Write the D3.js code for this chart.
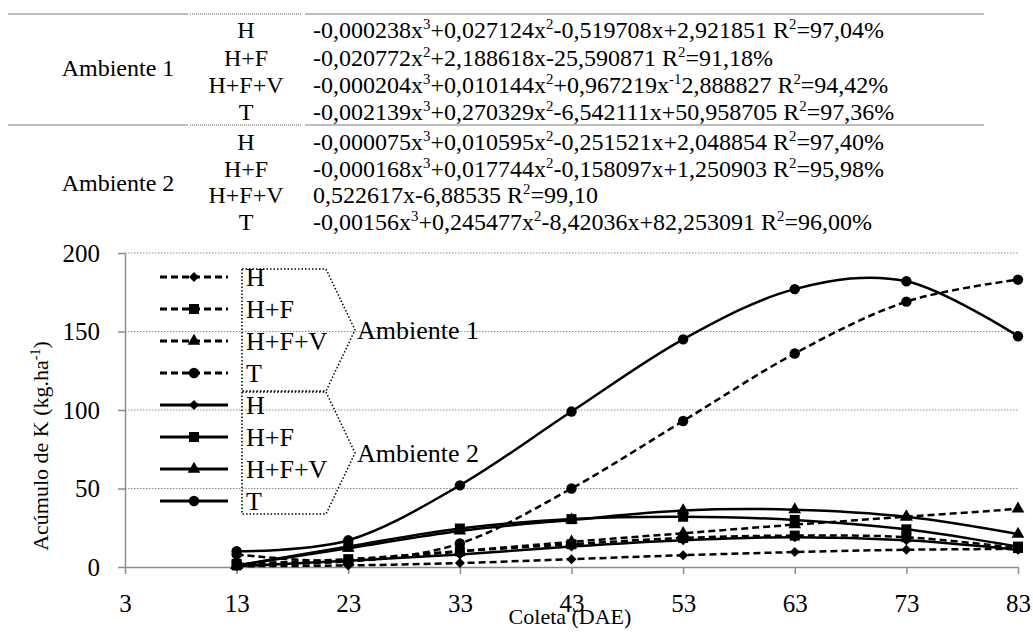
<!DOCTYPE html>
<html>
<head>
<meta charset="utf-8">
<script src="https://cdn.jsdelivr.net/npm/d3@7"></script>
<style>
  body { margin: 0; background: #fff; }
  svg text { font-family: "Liberation Serif", "Times New Roman", Times, "DejaVu Serif", serif !important; fill: #000; }
</style>
</head>
<body>
<script>
// Data

const coletas = [13, 23, 33, 43, 53, 63, 73, 83];
const xTicks = [3, 13, 23, 33, 43, 53, 63, 73, 83];
const yTicks = [0, 50, 100, 150, 200];
const tratamentos = ["H", "H+F", "H+F+V", "T"];
const ambientes = ["Ambiente 1", "Ambiente 2"];

// Ambiente 1 (dashed)
const amb1H   = [0.5, 1, 2.5, 5, 7.5, 9.5, 11, 11.5];
const amb1HF  = [2, 5, 10, 14.5, 18.5, 20, 19, 12];
const amb1HFV = [1, 3.5, 10, 16, 21.5, 27, 32, 37];
const amb1T   = [8, 4, 15, 50, 93, 136, 169, 183];

// Ambiente 2 (solid)
const amb2H   = [0.5, 4, 8, 13, 17, 19, 17, 11];
const amb2HF  = [1, 13, 24.5, 30.5, 32, 30, 24, 13];
const amb2HFV = [1, 12, 23, 30, 36, 36.5, 32, 21];
const amb2T   = [10, 17, 52, 99, 145, 177, 182, 147];

// regression equations (^{..} = superscript)
const eqAmb1 = [
  "-0,000238x^{3}+0,027124x^{2}-0,519708x+2,921851 R^{2}=97,04%",
  "-0,020772x^{2}+2,188618x-25,590871 R^{2}=91,18%",
  "-0,000204x^{3}+0,010144x^{2}+0,967219x^{-1}2,888827 R^{2}=94,42%",
  "-0,002139x^{3}+0,270329x^{2}-6,542111x+50,958705 R^{2}=97,36%"
];
const eqAmb2 = [
  "-0,000075x^{3}+0,010595x^{2}-0,251521x+2,048854 R^{2}=97,40%",
  "-0,000168x^{3}+0,017744x^{2}-0,158097x+1,250903 R^{2}=95,98%",
  "0,522617x-6,88535 R^{2}=99,10",
  "-0,00156x^{3}+0,245477x^{2}-8,42036x+82,253091 R^{2}=96,00%"
];

const series = [
  { amb: 0, trat: 0, vals: amb1H },
  { amb: 0, trat: 1, vals: amb1HF },
  { amb: 0, trat: 2, vals: amb1HFV },
  { amb: 0, trat: 3, vals: amb1T },
  { amb: 1, trat: 0, vals: amb2H },
  { amb: 1, trat: 1, vals: amb2HF },
  { amb: 1, trat: 2, vals: amb2HFV },
  { amb: 1, trat: 3, vals: amb2T }
];

const W = 1033, H = 633;
const svg = d3.select("body").append("svg")
  .attr("width", W)
  .attr("height", H)
  .attr("font-family", "'Liberation Serif', 'Times New Roman', Times, 'DejaVu Serif', serif");

// scales
const x = d3.scaleLinear().domain([3, 83]).range([125, 1018]);
const y = d3.scaleLinear().domain([0, 200]).range([567, 253]);

// ---- table of equations at the top ----
function richText(sel, str, base) {
  const parts = str.split(/\^\{([^}]*)\}/);
  const shift = base * 0.38;
  let up = false;
  parts.forEach((p, i) => {
    const sup = i % 2 === 1;
    if (p === "") return;
    const t = sel.append("tspan").text(p);
    if (sup) {
      t.attr("font-size", base * 0.62);
      if (!up) { t.attr("dy", -shift); up = true; }
    } else if (up) {
      t.attr("dy", shift); up = false;
    }
  });
}

const tableFont = 24;
const tblLines = [14, 125];
tblLines.forEach(ly => {
  svg.append("line").attr("x1", 8).attr("x2", 188).attr("y1", ly).attr("y2", ly)
    .attr("stroke", "#a6a6a6").attr("stroke-width", 1.5);
  svg.append("line").attr("x1", 190).attr("x2", 302).attr("y1", ly).attr("y2", ly)
    .attr("stroke", "#555").attr("stroke-width", 1.2).attr("stroke-dasharray", "1,1");
  svg.append("line").attr("x1", 305).attr("x2", 984).attr("y1", ly).attr("y2", ly)
    .attr("stroke", "#a6a6a6").attr("stroke-width", 1.5);
});

const rowBase = [[38, 66, 93, 120], [150, 177, 203, 230]];
const ambBase = [76, 191];
[eqAmb1, eqAmb2].forEach((eqs, a) => {
  svg.append("text")
    .attr("x", 118).attr("y", ambBase[a])
    .attr("text-anchor", "middle")
    .style("font-size", tableFont + "px")
    .text(ambientes[a]);
  eqs.forEach((eq, i) => {
    svg.append("text")
      .attr("x", 246).attr("y", rowBase[a][i])
      .attr("text-anchor", "middle")
      .style("font-size", tableFont + "px")
      .text(tratamentos[i]);
    const t = svg.append("text")
      .attr("x", 313).attr("y", rowBase[a][i])
      .style("font-size", tableFont + "px");
    richText(t, eq, tableFont);
  });
});

// ---- chart ----
// gridlines
svg.append("g")
  .selectAll("line")
  .data(yTicks.filter(d => d > 0))
  .enter()
  .append("line")
  .attr("x1", x(3)).attr("x2", x(83))
  .attr("y1", d => y(d)).attr("y2", d => y(d))
  .attr("stroke", "#8c8c8c")
  .attr("stroke-width", 1)
  .attr("stroke-dasharray", "1.5,1.5");

// y axis
const yAxis = svg.append("g")
  .attr("transform", `translate(${x(3)},0)`)
  .call(d3.axisLeft(y).tickValues(yTicks).tickSizeInner(7).tickSizeOuter(0).tickPadding(18));
// x axis
const xAxis = svg.append("g")
  .attr("transform", `translate(0,${y(0)})`)
  .call(d3.axisBottom(x).tickValues(xTicks).tickSizeInner(7).tickSizeOuter(0).tickPadding(20));

[yAxis, xAxis].forEach(ax => {
  ax.attr("font-family", null);
  ax.select(".domain").attr("stroke", "#8c8c8c").attr("stroke-width", 1.5);
  ax.selectAll(".tick line").attr("stroke", "#8c8c8c").attr("stroke-width", 1.5);
  ax.selectAll(".tick text")
    .style("font-size", "25px")
    .attr("fill", "#000");
});

// axis titles
svg.append("text")
  .attr("transform", "translate(48,446) rotate(-90)")
  .attr("text-anchor", "middle")
  .style("font-size", "22px")
  .call(t => {
    t.append("tspan").text("Acúmulo de K (kg.ha");
    t.append("tspan").text("-1").attr("font-size", 14).attr("dy", -8);
    t.append("tspan").text(")").attr("dy", 8);
  });

svg.append("text")
  .attr("x", 570).attr("y", 624)
  .attr("text-anchor", "middle")
  .style("font-size", "22px")
  .text("Coleta (DAE)");

// lines
const line = d3.line()
  .x((d, i) => x(coletas[i]))
  .y(d => y(d))
  .curve(d3.curveCardinal.tension(0));

const dashes = ["7,4", null];

svg.append("g")
  .selectAll("path")
  .data(series)
  .enter()
  .append("path")
  .attr("d", d => line(d.vals))
  .attr("fill", "none")
  .attr("stroke", "#000")
  .attr("stroke-width", 2.5)
  .attr("stroke-dasharray", d => dashes[d.amb]);

// markers
function marker(sel, trat, scale) {
  const s = scale || 1;
  if (trat === 0) {
    sel.append("path")
      .attr("d", d3.symbol().type(d3.symbolSquare).size(50 * s)())
      .attr("transform", "rotate(45)");
  } else if (trat === 1) {
    sel.append("path").attr("d", d3.symbol().type(d3.symbolSquare).size(100 * s)());
  } else if (trat === 2) {
    sel.append("path").attr("d", d3.symbol().type(d3.symbolTriangle).size(70 * s)());
  } else {
    sel.append("path").attr("d", d3.symbol().type(d3.symbolCircle).size(85 * s)());
  }
}

series.forEach(s => {
  s.vals.forEach((v, i) => {
    const g = svg.append("g")
      .attr("transform", `translate(${x(coletas[i])},${y(v)})`)
      .attr("fill", "#000");
    marker(g, s.trat);
  });
});

// ---- legend ----
const legTop = 277, legStep = 32;
series.forEach((s, k) => {
  const ly = legTop + k * legStep;
  svg.append("line")
    .attr("x1", 160).attr("x2", 228).attr("y1", ly).attr("y2", ly)
    .attr("stroke", "#000").attr("stroke-width", 3)
    .attr("stroke-dasharray", dashes[s.amb]);
  const g = svg.append("g").attr("transform", `translate(194,${ly})`).attr("fill", "#000");
  marker(g, s.trat);
  svg.append("text")
    .attr("x", 246).attr("y", ly + 9)
    .style("font-size", "26px")
    .text(tratamentos[s.trat]);
});

// dotted brackets grouping the two ambientes
const brTop = [269, 392], brH = 122;
brTop.forEach((t, a) => {
  const b = t + brH, m = t + brH / 2;
  svg.append("path")
    .attr("d", `M242,${t}L326,${t}L355,${m}L326,${b}L242,${b}Z`)
    .attr("fill", "none")
    .attr("stroke", "#000")
    .attr("stroke-width", 1.5)
    .attr("stroke-dasharray", "1.5,2");
  svg.append("text")
    .attr("x", 357).attr("y", m + 9)
    .style("font-size", "26px")
    .text(ambientes[a]);
});
</script>
</body>
</html>
